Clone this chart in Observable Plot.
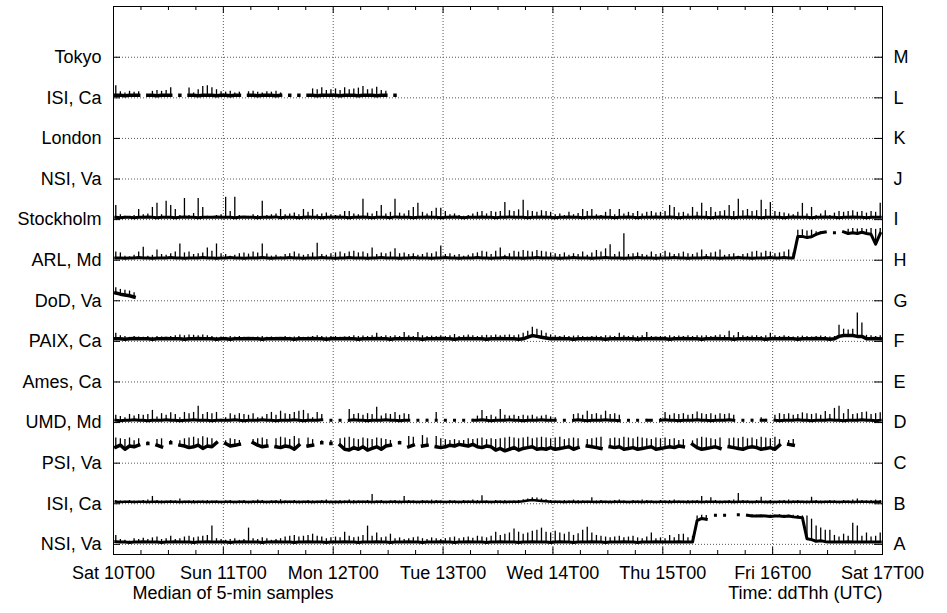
<!DOCTYPE html>
<html>
<head>
<meta charset="utf-8">
<script src="https://cdn.jsdelivr.net/npm/d3@7"></script>
<script src="https://cdn.jsdelivr.net/npm/@observablehq/plot@0.6"></script>
<style>body{margin:0;background:#fff}</style>
</head>
<body>
<div id="chart"></div>
<script>
// Row labels (bottom to top, row 1 = A)
const labelsLeft = ["NSI, Va","ISI, Ca","PSI, Va","UMD, Md","Ames, Ca","PAIX, Ca","DoD, Va","ARL, Md","Stockholm","NSI, Va","London","ISI, Ca","Tokyo"];
const labelsRight = ["A","B","C","D","E","F","G","H","I","J","K","L","M"];
const rows = [1,2,3,4,5,6,7,8,9,10,11,12,13];
const dayLabels = ["Sat 10T00","Sun 11T00","Mon 12T00","Tue 13T00","Wed 14T00","Thu 15T00","Fri 16T00","Sat 17T00"];
const dayTicks = [0,24,48,72,96,120,144,168];
const minorTicks = [6,12,18,30,36,42,54,60,66,78,84,90,102,108,114,126,132,138,150,156,162];
const captionLeft = "Median of 5-min samples";
const captionRight = "Time: ddThh (UTC)";

// Hourly max (hi) and min (lo) of each server's samples, in % of a row above its line
const aHi = [22,12,10,8,14,12,15,12,16,18,12,14,20,12,14,18,20,16,18,20,22,45,14,12,
10,12,14,10,12,40,14,12,16,14,10,12,14,18,20,22,18,20,22,25,20,18,14,16,
18,16,30,20,16,18,22,45,20,28,16,18,25,14,16,12,14,16,18,14,12,16,14,12,
14,16,18,14,16,18,15,20,18,16,20,30,22,25,28,38,30,25,28,32,35,40,30,28,
32,28,25,30,22,26,35,42,28,22,20,18,16,18,20,16,18,20,16,14,18,28,14,16,
14,22,16,24,25,16,20,70,72,71,null,70,null,71,null,null,72,null,71,73,72,72,71,72,
72,73,72,72,72,71,70,70,62,45,40,35,35,22,18,25,20,52,45,20,28,18,20,28];
const aLo = [3,2,2,1,2,2,3,2,2,2,1,2,2,3,2,2,2,1,2,2,3,2,2,2,
2,1,2,2,3,2,2,2,1,2,2,3,2,2,2,1,2,2,3,2,2,2,1,2,
2,2,3,2,2,1,2,2,2,3,2,2,1,2,2,2,3,2,2,1,2,2,2,3,
2,2,1,2,2,3,2,2,2,1,2,2,3,2,2,2,1,2,2,3,2,2,2,1,
2,3,2,2,1,2,2,2,3,2,2,1,2,2,2,3,2,2,1,2,2,2,3,2,
2,2,2,3,2,2,2,55,60,58,null,68,null,68,null,null,69,null,68,66,66,67,66,65,
66,66,65,66,64,63,62,10,8,4,5,3,2,2,2,2,3,2,2,2,2,2,2,2];

const bHi = [8,7,6,8,7,6,8,9,18,8,7,6,8,7,12,6,7,8,6,7,8,6,7,6,
7,8,6,7,8,6,7,9,8,6,7,8,10,7,6,8,7,6,8,7,6,8,9,7,
6,8,7,9,8,7,6,8,23,7,8,6,7,8,7,18,8,7,6,8,7,9,8,7,
6,8,7,6,8,7,9,8,20,7,6,8,7,8,6,7,8,10,12,15,14,12,10,8,
7,6,8,7,9,8,7,6,15,7,8,6,7,8,9,7,6,8,7,9,8,7,6,8,
7,8,9,7,6,8,7,8,18,7,15,8,7,6,8,9,25,8,7,6,8,16,7,8,
6,7,8,9,7,8,6,7,16,8,7,6,8,7,6,8,7,9,12,8,7,8,9,8];
const bLo = [2,1,2,2,1,2,2,1,2,2,1,2,2,2,1,2,2,1,2,2,1,2,2,1,
2,2,1,2,2,1,2,2,2,1,2,2,1,2,2,2,1,2,2,1,2,2,2,1,
2,1,2,2,1,2,2,2,1,2,2,1,2,2,1,2,2,2,1,2,2,1,2,2,
1,2,2,1,2,2,2,1,2,2,1,2,2,1,2,2,2,3,5,6,5,4,3,2,
2,2,1,2,2,1,2,2,2,1,2,2,1,2,2,2,1,2,2,1,2,2,1,2,
2,1,2,2,2,1,2,2,1,2,2,2,1,2,2,1,2,2,2,1,2,2,1,2,
1,2,2,1,2,2,2,1,2,2,1,2,2,2,1,2,2,1,2,2,2,1,2,2];

const cHi = [62,60,58,62,55,60,null,52,null,58,60,null,56,null,55,60,62,64,60,65,62,60,52,null,
55,60,58,56,null,null,58,60,62,58,null,60,64,62,58,66,60,null,62,58,null,55,null,56,
null,60,62,64,60,58,62,60,58,62,60,58,56,null,54,null,66,64,null,68,62,null,66,60,
58,56,58,55,56,60,58,60,62,58,60,58,60,62,64,62,60,62,64,60,62,64,62,60,
62,64,58,60,62,60,null,58,60,62,64,null,60,62,60,64,62,60,64,62,60,58,62,60,
62,58,60,56,58,null,55,60,64,62,60,58,62,null,60,62,60,64,60,62,58,64,62,60,
64,58,null,56,58];
const cLo = [35,40,30,38,36,40,null,44,null,40,36,null,46,null,40,38,34,36,40,32,38,36,46,null,
44,38,40,42,null,null,46,40,36,38,null,36,34,38,36,30,40,null,38,40,null,46,null,44,
null,40,30,28,34,30,36,28,32,36,30,38,40,null,46,null,36,40,null,38,40,null,36,34,
36,40,38,42,40,38,42,36,34,38,36,28,32,26,30,34,28,32,34,36,30,32,30,34,
30,32,34,36,30,34,null,38,36,34,32,null,36,34,36,30,32,34,30,32,34,36,30,32,
34,36,34,38,36,null,42,34,30,32,34,36,32,null,36,34,32,30,34,36,34,30,32,34,
30,40,null,42,40];

const dHi = [18,15,12,20,16,20,18,20,30,14,22,18,24,20,12,25,22,25,40,20,25,22,25,8,
12,22,18,22,20,18,22,12,14,20,25,18,28,22,20,25,28,30,22,12,25,20,null,6,
null,6,null,32,20,22,18,22,20,38,16,22,20,25,18,22,20,null,6,null,8,null,25,null,
6,null,6,null,5,null,8,16,30,15,18,14,32,18,16,18,15,18,16,18,14,16,18,14,
12,null,6,null,20,22,18,28,20,22,18,28,20,22,18,null,6,null,5,null,8,6,null,10,
25,18,22,20,22,18,20,26,22,20,22,18,22,20,22,18,null,6,null,8,null,12,8,null,
18,22,20,22,18,20,24,22,20,22,18,27,20,35,40,22,32,20,22,25,26,20,22,24];
const dLo = [2,1,2,2,3,2,2,1,2,2,2,3,2,2,1,2,2,3,2,2,2,1,2,2,
2,2,3,2,1,2,2,2,3,2,2,1,2,2,2,3,2,1,2,2,2,3,null,2,
null,2,null,2,3,2,2,1,2,2,2,3,2,2,1,2,2,null,2,null,2,null,2,null,
2,null,2,null,2,null,2,2,3,2,1,2,2,2,3,2,2,1,2,2,2,3,2,2,
2,null,2,null,2,3,2,1,2,2,2,3,2,2,1,null,2,null,2,null,2,2,null,2,
3,2,2,1,2,2,2,3,2,2,1,2,2,2,3,2,null,2,null,2,null,2,2,null,
2,1,2,2,2,3,2,2,1,2,2,2,3,2,2,1,2,2,2,3,2,2,1,2];

const fHi = [20,14,12,10,12,11,10,12,10,12,11,10,12,14,16,14,16,15,14,16,14,12,10,11,
10,12,11,12,10,9,10,11,12,10,11,10,9,12,10,11,12,10,11,12,14,12,11,12,
12,10,11,12,14,12,13,12,14,20,12,14,12,14,12,22,14,12,22,14,12,13,12,14,
12,14,17,12,14,16,14,12,14,15,14,16,14,15,16,14,16,20,25,35,30,26,20,16,
14,12,14,12,13,14,12,11,12,13,12,14,13,12,20,14,12,14,12,14,22,12,11,12,
12,14,12,13,12,14,12,14,13,14,12,14,16,14,25,14,22,14,12,13,14,12,14,20,
14,12,14,12,11,12,13,12,11,12,13,12,11,12,40,30,28,30,70,45,15,14,12,14];
const fLo = [2,2,1,2,3,2,2,2,1,2,2,3,2,2,2,1,2,2,3,2,2,2,1,2,
2,1,2,2,2,3,2,2,1,2,2,2,3,2,2,1,2,2,2,3,2,2,1,2,
2,2,3,2,2,1,2,2,2,3,2,2,1,2,2,2,3,2,2,1,2,2,2,3,
2,2,1,2,2,3,2,2,2,1,2,2,3,2,2,2,1,2,6,10,8,6,4,2,
2,3,2,2,1,2,2,2,3,2,2,1,2,2,2,3,2,2,1,2,2,2,3,2,
2,1,2,2,3,2,2,2,1,2,2,3,2,2,2,1,2,2,3,2,2,2,1,2,
2,2,3,2,2,1,2,2,2,3,2,2,1,2,8,10,10,10,8,8,2,2,3,2];

const gHi = [32,28,26,24,20];
const gLo = [15,12,10,8,5];

const hHi = [20,18,10,8,12,20,32,10,12,25,14,12,16,20,40,18,20,14,16,18,30,22,40,16,
14,10,12,16,18,15,20,18,40,15,10,12,8,14,16,20,15,12,14,18,42,14,12,16,
18,20,16,20,22,18,20,16,30,14,18,16,20,28,16,18,14,16,12,14,18,16,20,35,
14,16,12,14,10,12,16,18,22,20,14,22,30,12,16,22,20,24,22,20,24,22,20,18,
16,14,18,12,16,14,20,12,18,24,20,28,38,14,20,65,14,16,18,14,12,20,14,16,
22,18,14,16,20,16,14,18,25,14,18,20,25,12,14,16,10,14,16,20,22,18,22,20,
16,18,20,25,18,74,75,72,74,70,70,70,null,68,null,70,76,78,77,78,76,78,76,78];
const hLo = [2,2,1,2,2,3,2,2,1,2,2,2,3,2,2,1,2,2,2,3,2,2,1,2,
2,3,2,2,1,2,2,2,3,2,1,2,2,2,3,2,2,1,2,2,2,3,2,2,
1,2,2,3,2,2,2,1,2,2,3,2,2,2,1,2,2,3,2,2,2,1,2,2,
3,2,2,1,2,2,2,3,2,2,1,2,2,3,2,2,2,1,2,2,3,2,2,2,
2,1,2,2,3,2,2,2,1,2,2,3,2,2,2,1,2,2,3,2,2,2,1,2,
2,2,3,2,2,1,2,2,2,3,2,2,1,2,2,2,3,2,2,1,2,2,2,3,
2,2,3,2,2,55,55,52,54,60,64,66,null,64,null,66,62,64,62,65,62,60,36,62];

const iHi = [35,12,8,6,10,25,12,14,30,40,12,45,35,25,10,52,10,15,52,30,8,6,10,12,
55,20,55,10,6,8,12,10,45,10,12,14,25,12,14,16,12,25,18,25,12,14,16,12,
10,12,20,20,14,12,50,16,14,20,35,14,18,50,16,14,22,30,40,18,14,20,28,28,
20,12,14,10,8,10,14,18,20,14,20,18,20,42,22,20,24,48,22,20,18,22,20,18,
12,14,10,18,12,15,25,20,25,12,10,18,25,12,25,14,18,15,20,14,18,20,16,18,
20,35,30,16,18,14,30,18,40,20,30,18,20,22,35,20,50,22,25,20,22,48,25,42,
20,18,16,14,12,18,40,14,30,10,14,22,10,16,20,18,20,22,18,20,16,20,18,40];
const iLo = [2,1,2,2,1,2,2,3,2,1,2,2,2,1,2,3,2,2,1,2,2,2,3,2,
2,2,1,2,3,2,2,1,2,2,2,3,1,2,2,2,1,2,3,2,2,1,2,2,
3,2,2,1,2,2,3,2,1,2,2,2,1,3,2,2,2,1,2,2,3,2,2,1,
2,2,3,2,1,2,2,2,3,2,2,1,2,2,3,2,2,2,1,2,2,3,2,2,
1,2,2,3,2,2,1,2,2,2,3,2,2,1,2,2,3,2,1,2,2,2,3,2,
2,3,2,1,2,2,2,3,2,2,1,2,3,2,2,1,2,2,3,2,2,1,2,2,
2,2,1,2,3,2,2,2,1,2,2,3,2,2,1,2,2,3,2,2,1,2,2,2];

const lHi = [30,15,12,16,14,15,null,8,16,18,16,18,25,null,6,null,24,12,20,28,30,25,20,15,
14,16,12,14,null,15,16,14,12,15,14,16,12,null,6,null,5,null,8,22,20,25,18,20,
22,18,25,20,22,24,28,20,22,26,18,16,null,6];
const lLo = [2,2,1,2,2,2,null,2,2,1,2,2,2,null,2,null,2,2,1,2,2,2,1,2,
2,1,2,2,null,2,2,1,2,2,2,1,2,null,2,null,2,null,2,2,1,2,2,2,
2,1,2,2,2,1,2,2,2,1,2,2,null,2];

const series = [
  {row: 1, hi: aHi, lo: aLo},
  {row: 2, hi: bHi, lo: bLo},
  {row: 3, hi: cHi, lo: cLo},
  {row: 4, hi: dHi, lo: dLo},
  {row: 6, hi: fHi, lo: fLo},
  {row: 7, hi: gHi, lo: gLo},
  {row: 8, hi: hHi, lo: hLo},
  {row: 9, hi: iHi, lo: iLo},
  {row: 12, hi: lHi, lo: lLo}
];
// Thickness (px) of the dense band of samples drawn along each row's minimum (style only)
const bandWidth = {1: 3, 2: 2.5, 3: 3.5, 4: 3, 6: 3.5, 7: 3.5, 8: 3, 9: 3, 12: 3.5};

const W = 947, H = 613, ML = 113, MR = 65, MT = 6, MB = 59;
const innerW = W - ML - MR, innerH = H - MT - MB;
const gridStyle = {stroke: "#555", strokeOpacity: 1, strokeWidth: 1, strokeDasharray: "1,2"};

const bandMarks = [];
const needles = [];
for (const s of series) {
  const pts = [];
  for (let i = 0; i < s.hi.length; i++) {
    const h = s.hi[i], l = s.lo[i];
    const ok = h != null && l != null;
    const yl = ok ? s.row + l / 100 : NaN;
    pts.push({t: i + 0.5, v: yl});
    if (ok) needles.push({t: i + 0.5, y1: yl, y2: s.row + h / 100});
  }
  const w = bandWidth[s.row];
  bandMarks.push(Plot.line(pts, {x: "t", y: "v", stroke: "black", strokeWidth: w, dy: -w / 2, strokeLinecap: "square"}));
}

const chart = Plot.plot({
  width: W, height: H,
  marginLeft: ML, marginRight: MR, marginTop: MT, marginBottom: MB,
  style: {fontFamily: "'Liberation Sans', Arial, Helvetica, sans-serif", fontSize: "18px", color: "black", background: "white"},
  x: {domain: [0, 168], label: null},
  y: {domain: [0.75, 14.25], label: null},
  marks: [
    Plot.gridY(rows, gridStyle),
    Plot.gridX(dayTicks.slice(1, -1), gridStyle),
    ...bandMarks,
    Plot.ruleX(needles, {x: "t", y1: "y1", y2: "y2", stroke: "black", strokeWidth: 1.3}),
    Plot.tickY(rows, {y: d => d, stroke: "black", insetRight: innerW - 7}),
    Plot.tickY(rows, {y: d => d, stroke: "black", insetLeft: innerW - 8}),
    Plot.tickX(dayTicks, {x: d => d, stroke: "black", insetBottom: innerH - 7}),
    Plot.tickX(dayTicks, {x: d => d, stroke: "black", insetTop: innerH - 7}),
    Plot.tickX(minorTicks, {x: d => d, stroke: "black", insetBottom: innerH - 4}),
    Plot.tickX(minorTicks, {x: d => d, stroke: "black", insetTop: innerH - 4}),
    Plot.axisY(rows, {anchor: "left", tickSize: 0, tickPadding: 12, label: null, tickFormat: d => labelsLeft[d - 1]}),
    Plot.axisY(rows, {anchor: "right", tickSize: 0, tickPadding: 11, label: null, tickFormat: d => labelsRight[d - 1]}),
    Plot.axisX(dayTicks, {anchor: "bottom", tickSize: 0, tickPadding: 12, label: null, tickFormat: d => dayLabels[d / 24]}),
    Plot.text([captionLeft], {text: d => d, frameAnchor: "bottom-left", dx: 19, dy: 44, textAnchor: "start", fill: "black"}),
    Plot.text([captionRight], {text: d => d, frameAnchor: "bottom-right", dx: 0, dy: 44, textAnchor: "end", fill: "black"}),
    Plot.frame({stroke: "black", strokeWidth: 1})
  ]
});
document.getElementById("chart").appendChild(chart);
</script>
</body>
</html>
